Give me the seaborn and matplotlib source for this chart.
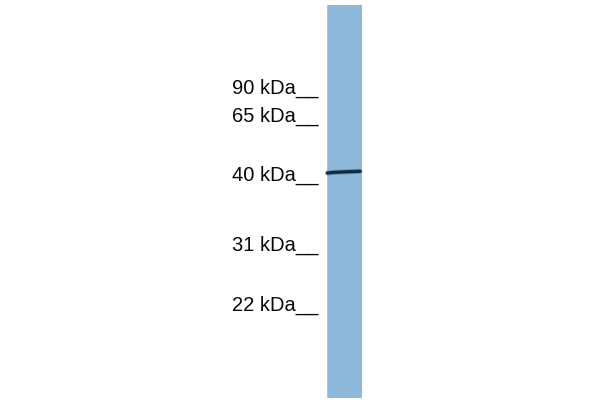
import matplotlib
matplotlib.use("Agg")
import matplotlib.pyplot as plt
import pandas as pd
import seaborn as sns

# marker ladder (kDa) and where each tick mark sits on the membrane (pixel rows)
marker_kda = [90, 65, 40, 31, 22]
marker_row = [93.5, 122, 181, 250.5, 310.5]

# the single lane and its one band
lane_left, lane_right = 326.5, 362
lane_top, lane_bottom = 5, 398
band_cols = [327.5, 334, 344, 354, 360]
band_rows = [173.0, 172.4, 171.9, 171.5, 171.3]

sns.set_theme(style="white")
plt.rcParams["font.family"] = ["Liberation Sans", "DejaVu Sans"]

fig = plt.figure(figsize=(6, 4), dpi=100)
ax = fig.add_axes([0, 0, 1, 1])
ax.set_xlim(0, 600)
ax.set_ylim(400, 0)
ax.axis("off")

# lane background
ax.bar(lane_left, lane_bottom - lane_top, bottom=lane_top,
       width=lane_right - lane_left, align="edge", color="#8db8da",
       edgecolor="none")
ax.bar(lane_left, lane_bottom - lane_top, bottom=lane_top,
       width=1.5, align="edge", color="#a3c6e2", edgecolor="none")

# band: soft halo + dark core
band = pd.DataFrame({"x": band_cols, "y": band_rows})
sns.lineplot(data=band, x="x", y="y", ax=ax, color="#4f7394",
             linewidth=3.6, solid_capstyle="round", sort=False, alpha=0.6)
sns.lineplot(data=band, x="x", y="y", ax=ax, color="#0e2c46",
             linewidth=2.3, solid_capstyle="round", sort=False)

# ladder labels
for kda, row in zip(marker_kda, marker_row):
    ax.text(318, row, f"{kda} kDa__", ha="right", va="baseline",
            fontsize=14.5, color="#0a0a0a")

ax.set_xlim(0, 600)
ax.set_ylim(400, 0)
fig.savefig("out.png", dpi=100)
